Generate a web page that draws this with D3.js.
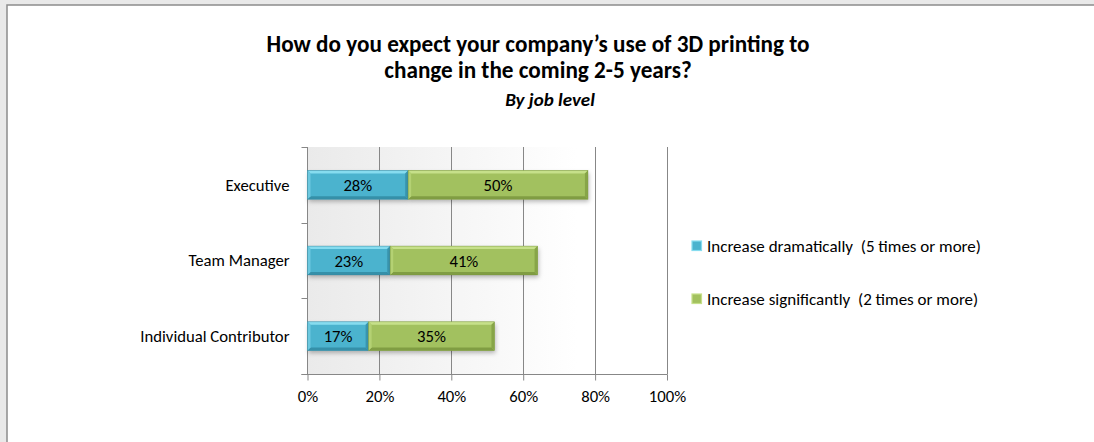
<!DOCTYPE html>
<html>
<head>
<meta charset="utf-8">
<script src="https://cdn.jsdelivr.net/npm/d3@7"></script>
<style>
  html, body { margin: 0; padding: 0; background: #e9e9e9; }
  svg { display: block; }
</style>
</head>
<body>
<svg id="chart" width="1094" height="442"></svg>
<script>
// Survey results: expected change in 3D printing use, by job level
const categories = ["Executive", "Team Manager", "Individual Contributor"];
const seriesNames = ["Increase dramatically  (5 times or more)", "Increase significantly  (2 times or more)"];
const dramatic = [28, 23, 17];
const significant = [50, 41, 35];
const tickValues = [0, 20, 40, 60, 80, 100];
const titleLines = ["How do you expect your company\u2019s use of 3D printing to", "change in the coming 2-5 years?"];
const subtitle = "By job level";

const FONT = "Carlito, Lato, 'Open Sans', sans-serif";
const LABEL_SIZE = 16.7;
const colors = [
  { base: "#4bb3ce", top: "#86dcef", left: "#6cc8df", right: "#3a98b2", bottom: "#3590a9", edge: "#3a8aa0" },
  { base: "#a2c15e", top: "#c6e08a", left: "#b4d173", right: "#87a548", bottom: "#809d43", edge: "#7a9740" }
];
const BEVEL = 3;

const svg = d3.select("#chart");
const W = 1094, H = 442;

// page frame
svg.append("rect").attr("x", 0).attr("y", 0).attr("width", W).attr("height", H).attr("fill", "#e9e9e9");
svg.append("rect").attr("x", 7).attr("y", 5).attr("width", W).attr("height", H)
  .attr("fill", "#ffffff").attr("stroke", "#8c8c8c").attr("stroke-width", 1.5);

const defs = svg.append("defs");
const bg = defs.append("linearGradient").attr("id", "plotBg").attr("x1", 0).attr("x2", 1).attr("y1", 0).attr("y2", 0);
bg.append("stop").attr("offset", "0%").attr("stop-color", "#eaeaea");
bg.append("stop").attr("offset", "75%").attr("stop-color", "#ffffff");
bg.append("stop").attr("offset", "100%").attr("stop-color", "#ffffff");

const shadow = defs.append("filter").attr("id", "shadow").attr("x", "-5%").attr("y", "-20%").attr("width", "115%").attr("height", "170%");
shadow.append("feDropShadow").attr("dx", 1).attr("dy", 2.5).attr("stdDeviation", 2).attr("flood-color", "#000").attr("flood-opacity", 0.28);

const plotTop = 147, plotBottom = 374;
const x = d3.scaleLinear().domain([0, 100]).range([307.5, 667]);
const y = d3.scaleBand().domain(categories).range([plotTop, plotBottom]).paddingInner(0.62).paddingOuter(0.31);
const yOuter = d3.scaleBand().domain(categories).range([plotTop, plotBottom]);

// plot background
svg.append("rect").attr("x", x(0)).attr("y", plotTop).attr("width", x(100) - x(0)).attr("height", plotBottom - plotTop)
  .attr("fill", "url(#plotBg)");

// vertical gridlines
svg.append("g").selectAll("line").data(tickValues.slice(1)).join("line")
  .attr("x1", d => Math.round(x(d)) + 0.5).attr("x2", d => Math.round(x(d)) + 0.5)
  .attr("y1", plotTop).attr("y2", plotBottom)
  .attr("stroke", "#878787").attr("stroke-width", 1);

// x axis
const xAxis = svg.append("g").attr("transform", `translate(0,${plotBottom + 0.5})`)
  .call(d3.axisBottom(x).tickValues(tickValues).tickFormat(d => d + "%").tickSize(6).tickSizeOuter(0).tickPadding(10));
xAxis.select(".domain").attr("stroke", "#878787").attr("d", `M${x(0) - 6},0H${x(100) + 0.5}`);
xAxis.selectAll(".tick line").attr("stroke", "#878787");
xAxis.selectAll("text").attr("font-family", FONT).attr("font-size", LABEL_SIZE).attr("fill", "#000");

// y axis with tick marks on band boundaries
const yAxisG = svg.append("g").attr("transform", `translate(${x(0)},0)`);
yAxisG.append("line").attr("x1", 0).attr("x2", 0).attr("y1", plotTop).attr("y2", plotBottom).attr("stroke", "#878787");
const boundaries = categories.map(c => yOuter(c)).concat([plotBottom]);
yAxisG.selectAll("line.tk").data(boundaries).join("line").attr("class", "tk")
  .attr("x1", -6).attr("x2", 0).attr("y1", d => Math.round(d) + 0.5).attr("y2", d => Math.round(d) + 0.5)
  .attr("stroke", "#878787");
yAxisG.selectAll("text").data(categories).join("text")
  .attr("x", -18).attr("y", d => yOuter(d) + yOuter.bandwidth() / 2)
  .attr("dy", "0.35em").attr("text-anchor", "end")
  .attr("font-family", FONT).attr("font-size", LABEL_SIZE).attr("fill", "#000")
  .text(d => d);

// stacked bars
const rows = categories.map((c, i) => ({ cat: c, vals: [dramatic[i], significant[i]] }));
const stackData = rows.map(r => {
  let acc = 0;
  return r.vals.map((v, s) => { const seg = { cat: r.cat, s, v, x0: acc, x1: acc + v }; acc += v; return seg; });
}).flat();

// bevelled faces of a box: top, bottom, left, right
function bevelFaces(d) {
  const a = x(d.x0), b = x(d.x1), t = y(d.cat), u = t + y.bandwidth(), e = BEVEL;
  const c = colors[d.s];
  return [
    { pts: [[a, t], [b, t], [b - e, t + e], [a + e, t + e]], fill: c.top },
    { pts: [[a, u], [b, u], [b - e, u - e], [a + e, u - e]], fill: c.bottom },
    { pts: [[a, t], [a + e, t + e], [a + e, u - e], [a, u]], fill: c.left },
    { pts: [[b, t], [b - e, t + e], [b - e, u - e], [b, u]], fill: c.right }
  ];
}

const segs = svg.append("g").selectAll("g").data(stackData).join("g");
segs.append("rect")
  .attr("x", d => x(d.x0)).attr("y", d => y(d.cat))
  .attr("width", d => x(d.x1) - x(d.x0)).attr("height", y.bandwidth())
  .attr("fill", d => colors[d.s].base)
  .attr("filter", "url(#shadow)");
segs.selectAll("polygon").data(d => bevelFaces(d)).join("polygon")
  .attr("points", f => f.pts.map(p => p.join(",")).join(" "))
  .attr("fill", f => f.fill);
segs.append("rect")
  .attr("x", d => x(d.x0)).attr("y", d => y(d.cat))
  .attr("width", d => x(d.x1) - x(d.x0)).attr("height", y.bandwidth())
  .attr("fill", "none").attr("stroke", d => colors[d.s].edge).attr("stroke-width", 0.6).attr("stroke-opacity", 0.8);
segs.append("text")
  .attr("x", d => (x(d.x0) + x(d.x1)) / 2).attr("y", d => y(d.cat) + y.bandwidth() / 2)
  .attr("dy", "0.36em").attr("text-anchor", "middle")
  .attr("font-family", FONT).attr("font-size", LABEL_SIZE).attr("fill", "#000")
  .text(d => d.v + "%");

// legend
const legend = svg.append("g").selectAll("g").data(seriesNames).join("g")
  .attr("transform", (d, i) => `translate(692,${246 + i * 53})`);
legend.append("rect").attr("x", 0).attr("y", -5).attr("width", 9.5).attr("height", 9.5)
  .attr("fill", (d, i) => colors[i].base).attr("stroke", (d, i) => colors[i].top).attr("stroke-width", 1.2);
legend.append("text").attr("x", 15).attr("y", 0).attr("dy", "0.35em")
  .attr("font-family", FONT).attr("font-size", LABEL_SIZE + 0.3).attr("fill", "#000")
  .style("white-space", "pre").text(d => d);

// titles
const cx = 538;
svg.append("text").attr("x", cx).attr("y", 52).attr("text-anchor", "middle")
  .attr("font-family", FONT).attr("font-weight", "bold").attr("font-size", 23.2).attr("fill", "#000")
  .text(titleLines[0]);
svg.append("text").attr("x", cx).attr("y", 78).attr("text-anchor", "middle")
  .attr("font-family", FONT).attr("font-weight", "bold").attr("font-size", 23.2).attr("fill", "#000")
  .text(titleLines[1]);
svg.append("text").attr("x", 550).attr("y", 106).attr("text-anchor", "middle")
  .attr("font-family", FONT).attr("font-weight", "bold").attr("font-style", "italic").attr("font-size", 19).attr("fill", "#000")
  .text(subtitle);
</script>
</body>
</html>
